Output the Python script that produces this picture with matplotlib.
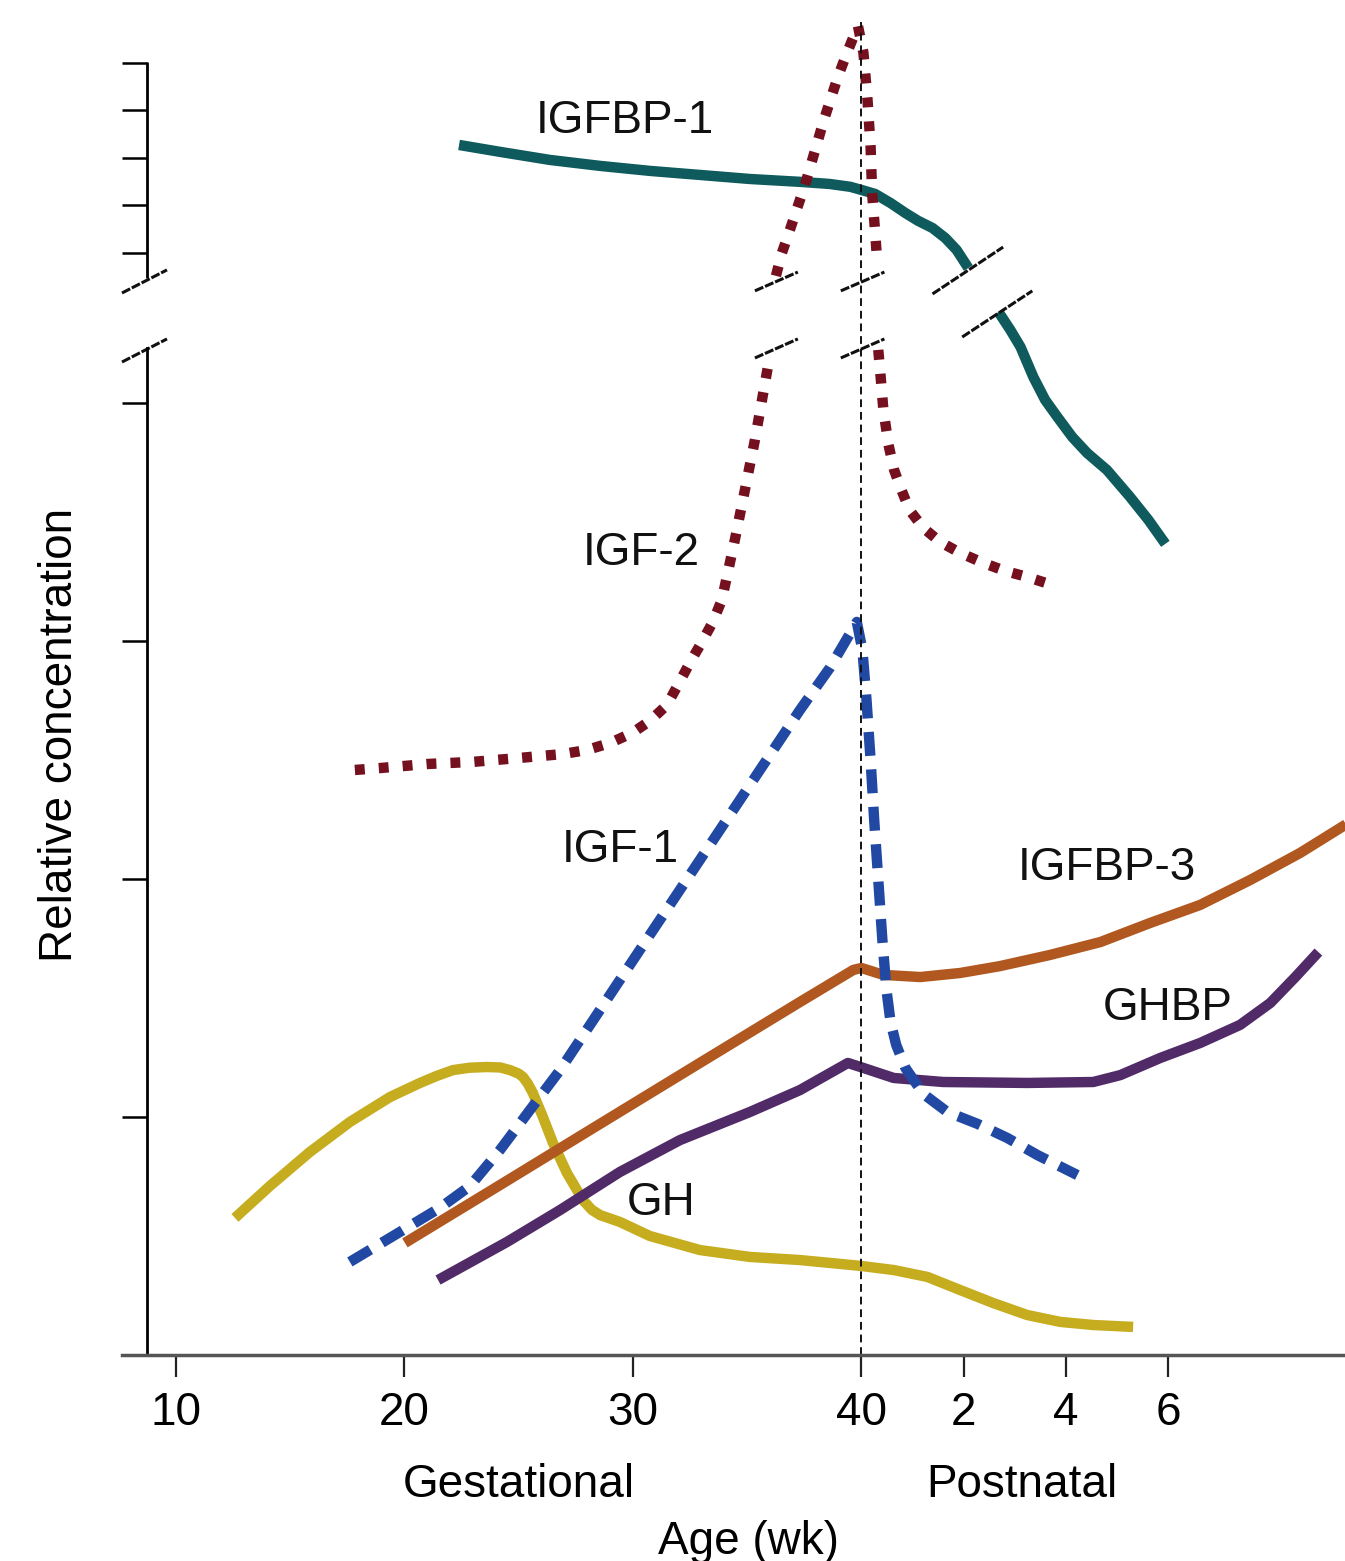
import numpy as np
import matplotlib
matplotlib.use('Agg')
from matplotlib import pyplot as plt

plt.rcParams['font.family'] = ['Liberation Sans', 'DejaVu Sans']

# age in weeks (40 = birth, 40 + n = n weeks postnatal); y = relative units
# nan marks where the curve is cut by the axis break
IGFBP1_AGE = [22.39, 24.18, 26.37, 28.56, 30.74, 32.93, 35.12, 37.31, 38.62, 39.52,
              40.0, 40.27, 40.57, 40.86, 41.11, 41.39, 41.64, 41.86, 42.09, np.nan,
              42.68, 42.91, 43.11, 43.36, 43.59, 43.83, 44.12, 44.41, 44.80, 45.25,
              45.61, 45.94]
IGFBP1_VAL = [5.084, 5.055, 5.021, 4.996, 4.975, 4.958, 4.941, 4.929, 4.920, 4.908,
              4.895, 4.878, 4.840, 4.798, 4.765, 4.735, 4.693, 4.643, 4.567, np.nan,
              4.382, 4.307, 4.235, 4.109, 4.013, 3.941, 3.857, 3.790, 3.718, 3.605,
              3.508, 3.408]

IGF2_AGE = [17.83, 18.93, 20.98, 23.00, 24.97, 26.94, 27.99, 28.99, 29.96, 30.74,
            31.49, 31.97, 32.49, 33.02, 33.50, 33.89, 34.11, 34.46, 34.90, 35.34,
            35.65, 36.00, np.nan,
            36.26, 36.52, 36.87, 37.53, 38.36, 38.97, 39.37, 39.85,
            40.04, 40.12, 40.18, 40.21, 40.27, 40.31, np.nan,
            40.33, 40.37, 40.43, 40.53, 40.64, 40.76, 40.94, 41.21, 41.54, 41.93,
            42.38, 42.81, 43.24, 43.73]
IGF2_VAL = [2.458, 2.466, 2.483, 2.492, 2.508, 2.525, 2.542, 2.571, 2.613, 2.664,
            2.731, 2.815, 2.908, 2.996, 3.080, 3.172, 3.269, 3.424, 3.634, 3.845,
            4.013, 4.202, np.nan,
            4.534, 4.630, 4.727, 4.916, 5.189, 5.370, 5.471, 5.584,
            5.471, 5.273, 5.076, 4.882, 4.714, 4.592, np.nan,
            4.223, 4.126, 3.971, 3.824, 3.718, 3.647, 3.550, 3.475, 3.416, 3.370,
            3.328, 3.294, 3.269, 3.235]

IGF1_AGE = [17.61, 19.80, 21.55, 22.87, 24.18, 25.49, 26.81, 28.56, 30.74, 32.93,
            35.12, 37.31, 38.62, 39.80, 40.02, 40.10, 40.18, 40.25, 40.33, 40.41,
            40.49, 40.57, 40.68, 40.86, 41.21, 41.68, 42.27, 42.85, 43.44, 44.22]
IGF1_VAL = [0.391, 0.517, 0.618, 0.710, 0.861, 1.029, 1.197, 1.450, 1.765, 2.080,
            2.395, 2.710, 2.887, 3.080, 2.962, 2.752, 2.500, 2.248, 1.996, 1.744,
            1.534, 1.399, 1.303, 1.206, 1.097, 1.021, 0.971, 0.912, 0.840, 0.756]

IGFBP3_AGE = [20.02, 24.18, 28.56, 32.93, 37.31, 39.06, 39.65, 40.0, 40.43, 41.15,
              41.93, 42.71, 43.69, 44.67, 45.64, 46.62, 47.60, 48.57, 49.55]
IGFBP3_VAL = [0.471, 0.714, 0.971, 1.227, 1.483, 1.584, 1.618, 1.626, 1.597, 1.588,
              1.605, 1.634, 1.681, 1.735, 1.815, 1.891, 1.996, 2.109, 2.240]

GHBP_AGE = [21.47, 24.49, 26.81, 29.43, 32.06, 35.12, 37.31, 39.41, 40.04, 40.63,
            41.60, 43.24, 44.53, 45.06, 45.84, 46.62, 47.40, 47.99, 48.48, 48.93]
GHBP_VAL = [0.315, 0.475, 0.609, 0.769, 0.903, 1.021, 1.113, 1.227, 1.206, 1.164,
            1.147, 1.143, 1.147, 1.176, 1.248, 1.311, 1.387, 1.479, 1.588, 1.693]

GH_AGE = [12.58, 14.11, 15.86, 17.61, 19.37, 20.68, 21.40, 22.12, 22.85, 23.61,
          24.20, 24.62, 25.00, 25.19, 25.40, 25.62, 26.06, 26.50, 27.11, 27.81,
          28.20, 28.56, 29.43, 30.74, 32.93, 35.12, 37.31, 40.0, 40.63, 41.29,
          41.93, 42.58, 43.24, 43.89, 44.53, 45.31]
GH_VAL = [0.576, 0.710, 0.853, 0.979, 1.084, 1.143, 1.172, 1.197, 1.207, 1.210,
          1.208, 1.197, 1.182, 1.168, 1.140, 1.101, 1.000, 0.891, 0.765, 0.651,
          0.610, 0.588, 0.559, 0.500, 0.441, 0.412, 0.399, 0.374, 0.357, 0.328,
          0.273, 0.218, 0.168, 0.139, 0.126, 0.118]

TICK_AGES = [10, 20, 30, 40, 42, 44, 46]
TICK_LABELS = ['10', '20', '30', '40', '2', '4', '6']
Y_TICKS = [1, 2, 3, 4, 4.63, 4.83, 5.03, 5.23, 5.43]

# name, label x, label baseline y
LABELS = [('IGFBP-1', 29.65, 5.134), ('IGF-2', 30.35, 3.319), ('IGF-1', 29.45, 2.071),
          ('IGFBP-3', 44.80, 1.996), ('GHBP', 45.99, 1.408), ('GH', 31.23, 0.588)]

POST_STRETCH = 2.24  # postnatal weeks are drawn wider than gestational ones


def _forward(x):
    x = np.asarray(x, dtype=float)
    return np.where(x <= 40, x, 40 + (x - 40) * POST_STRETCH)


def _inverse(x):
    x = np.asarray(x, dtype=float)
    return np.where(x <= 40, x, 40 + (x - 40) / POST_STRETCH)


fig = plt.figure(figsize=(13.45, 15.61), dpi=100)
ax = fig.add_axes([122 / 1345, 206 / 1561, 1223 / 1345, 1355 / 1561])
ax.set_xscale('function', functions=(_forward, _inverse))
ax.set_xlim(7.637, 49.45)
ax.set_ylim(0, 5.693)

solid = dict(lw=7.5, solid_capstyle='butt', solid_joinstyle='round')
ax.plot(GH_AGE, GH_VAL, color='#c5ad1f', **solid)
ax.plot(GHBP_AGE, GHBP_VAL, color='#512a68', **solid)
ax.plot(IGFBP3_AGE, IGFBP3_VAL, color='#b0581f', **solid)
ax.plot(IGFBP1_AGE, IGFBP1_VAL, color='#0e5a5c', **solid)
ax.plot(IGF1_AGE, IGF1_VAL, color='#2149a3', lw=7.5, dashes=(2.3, 1.3),
        dash_capstyle='butt', dash_joinstyle='round')
ax.plot(IGF2_AGE, IGF2_VAL, color='#75101e', lw=7.5, dashes=(0.95, 1.35),
        dash_capstyle='butt')

# birth marker
ax.vlines(40, 0, 5.6, colors='#111111', lw=1.4, linestyles=(0, (4, 2.5)))

for name, x, y in LABELS:
    ax.text(x, y, name, fontsize=33, ha='center', va='baseline', color='#111111')

# axes
for side in ['top', 'right']:
    ax.spines[side].set_visible(False)
ax.spines['bottom'].set_color('#555555')
ax.spines['bottom'].set_linewidth(2.5)
y_spine_x = 8.731
ax.spines['left'].set_position(('data', y_spine_x))
ax.spines['left'].set_bounds(0, 4.231)
ax.spines['left'].set_linewidth(2)
ax.plot([y_spine_x, y_spine_x], [4.525, 5.433], color='black', lw=2,
        solid_capstyle='butt', clip_on=False)

ax.set_xticks(TICK_AGES)
ax.set_xticklabels(TICK_LABELS)
ax.set_yticks(Y_TICKS)
ax.set_yticklabels([])
ax.tick_params(axis='x', direction='out', length=16, width=1.6, labelsize=33,
               pad=10, color='#222222')
ax.tick_params(axis='y', direction='out', length=18, width=1.8, color='black')

# break marks: (x0, y0, x1, y1)
BREAKS = [(7.637, 4.462, 9.606, 4.559), (7.637, 4.172, 9.606, 4.269),
          (35.34, 4.471, 37.22, 4.550), (35.34, 4.189, 37.22, 4.269),
          (39.10, 4.471, 40.45, 4.550), (39.10, 4.189, 40.45, 4.269),
          (41.39, 4.458, 42.77, 4.655), (41.97, 4.277, 43.34, 4.471)]
for x0, y0, x1, y1 in BREAKS:
    ax.plot([x0, x1], [y0, y1], color='#111111', lw=2.2,
            linestyle=(0, (3, 0.6)), clip_on=False)

fig.text(519 / 1345, 1 - 1497 / 1561, 'Gestational', fontsize=33, ha='center',
         va='baseline')
fig.text(1022 / 1345, 1 - 1497 / 1561, 'Postnatal', fontsize=33, ha='center',
         va='baseline')
fig.text(748 / 1345, 1 - 1554 / 1561, 'Age (wk)', fontsize=33, ha='center',
         va='baseline')
fig.text(72 / 1345, 1 - 735 / 1561, 'Relative concentration', fontsize=33,
         rotation=90, rotation_mode='anchor', ha='center', va='baseline')

fig.savefig('out.png', dpi=100)
